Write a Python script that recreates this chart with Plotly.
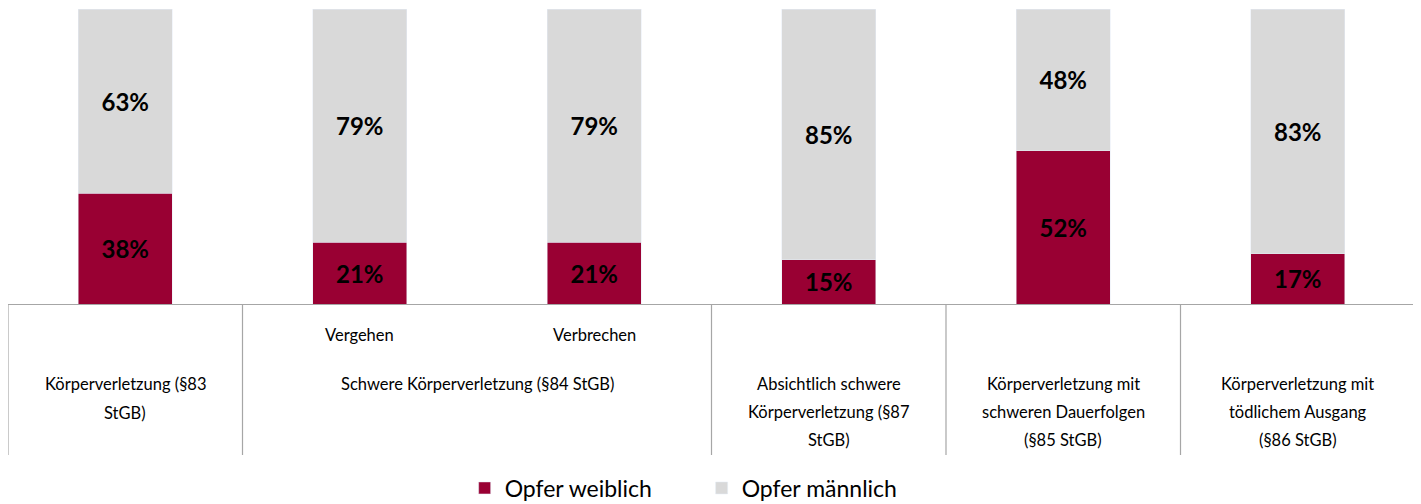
import plotly.graph_objects as go

# ---- data ----
categories = ["Körperverletzung (§83 StGB)", "Vergehen", "Verbrechen",
              "Absichtlich schwere Körperverletzung (§87 StGB)",
              "Körperverletzung mit schweren Dauerfolgen (§85 StGB)",
              "Körperverletzung mit tödlichem Ausgang (§86 StGB)"]
female = [38, 21, 21, 15, 52, 17]
male = [63, 79, 79, 85, 48, 83]
series_names = ["Opfer weiblich", "Opfer männlich"]

# category label lines: (x-center in category units, text lines)
sub_labels = [(1, "Vergehen"), (2, "Verbrechen")]
group_labels = [
    (0.0, ["Körperverletzung (§83", "StGB)"]),
    (1.5, ["Schwere Körperverletzung (§84 StGB)"]),
    (3.0, ["Absichtlich schwere", "Körperverletzung (§87", "StGB)"]),
    (4.0, ["Körperverletzung mit", "schweren Dauerfolgen", "(§85 StGB)"]),
    (5.0, ["Körperverletzung mit", "tödlichem Ausgang", "(§86 StGB)"]),
]
separators = [-0.5, 0.5, 2.5, 3.5, 4.5, 5.5]

RED = "#990033"
GREY = "#D9D9D9"
LINE = "#A6A6A6"
FONT = "Lato"

# page body has an 8px margin, compensate so the plot lands at x=8, y=9
BODY = 8
TOP, PLOT_H = 9, 295
W, H = 1421 - BODY, 504 - BODY


def py(pix):
    return 1 - (pix - TOP) / PLOT_H


x = list(range(len(categories)))

fig = go.Figure()
fig.add_trace(go.Bar(
    x=x, y=female, name=series_names[0], marker_color=RED,
    text=[f"{v}%" for v in female], textposition="inside",
    insidetextanchor="middle", textangle=0, constraintext="none",
    textfont=dict(family=FONT, size=24, color="black", weight="bold"),
    width=0.4,
))
fig.add_trace(go.Bar(
    x=x, y=male, name=series_names[1], marker_color=GREY,
    text=[f"{v}%" for v in male], textposition="inside",
    insidetextanchor="middle", textangle=0, constraintext="none",
    textfont=dict(family=FONT, size=24, color="black", weight="bold"),
    width=0.4,
))

shapes = []
for s in separators:
    shapes.append(dict(type="line", xref="x", yref="paper", x0=s, x1=s,
                       y0=0, y1=py(455), line=dict(color=LINE, width=1.2)))

annotations = []
for cx, t in sub_labels:
    annotations.append(dict(x=cx, y=py(335), xref="x", yref="paper", text=t,
                            showarrow=False, yanchor="middle",
                            font=dict(family=FONT, size=16.5, color="black")))
line_rows = {1: [384], 2: [384, 413], 3: [384, 412, 440]}
for cx, lines in group_labels:
    rows = line_rows[len(lines)]
    for r, t in zip(rows, lines):
        annotations.append(dict(x=cx, y=py(r), xref="x", yref="paper", text=t,
                                showarrow=False, yanchor="middle",
                                font=dict(family=FONT, size=16.5, color="black")))

fig.update_layout(
    barmode="stack", barnorm="percent",
    width=W, height=H,
    margin=dict(l=0, r=6, t=TOP - BODY, b=H - (TOP - BODY) - PLOT_H,
                autoexpand=False),
    plot_bgcolor="white", paper_bgcolor="white",
    xaxis=dict(range=[-0.5, 5.5], showticklabels=False, ticks="",
               showgrid=False, zeroline=False, showline=True,
               linecolor=LINE, linewidth=1.2, fixedrange=True),
    yaxis=dict(range=[0, 100], visible=False, fixedrange=True),
    showlegend=True,
    legend=dict(orientation="h", x=0.493, xanchor="center",
                yref="container", y=1 - (488 - BODY) / H,
                yanchor="middle", font=dict(family=FONT, size=23, color="black"),
                entrywidth=192, entrywidthmode="pixels", traceorder="normal"),
    shapes=shapes, annotations=annotations,
    hovermode=False,
)

fig.write_html("out.html")
